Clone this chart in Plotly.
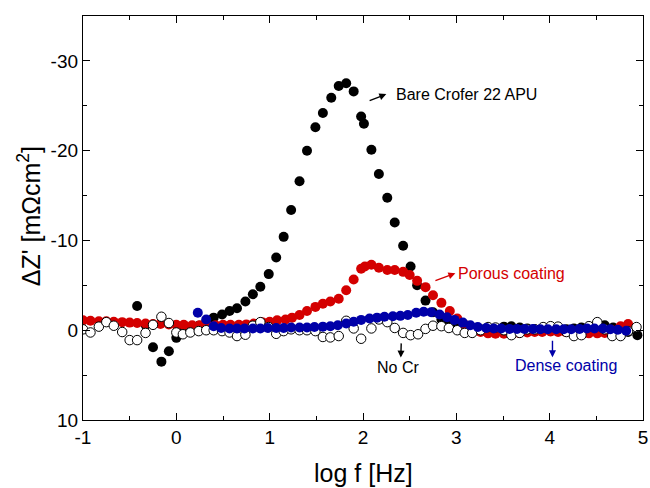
import plotly.graph_objects as go

# ---------------- data ----------------
bare_x = [-0.42, -0.33, -0.25, -0.16, -0.08, 0.00, 0.08, 0.16, 0.24, 0.32,
          0.40, 0.49, 0.57, 0.65, 0.74, 0.82, 0.90, 0.99, 1.07, 1.15,
          1.23, 1.32, 1.40, 1.49, 1.57, 1.66, 1.74, 1.82, 1.90, 1.98,
          2.01, 2.09, 2.17, 2.26, 2.34, 2.43, 2.51, 2.58, 2.67, 2.75,
          2.84, 2.92, 3.01, 3.09, 3.18, 3.26, 3.34, 3.43, 3.51, 3.59,
          3.68, 3.76, 3.84, 3.93, 4.01, 4.09, 4.18, 4.26, 4.34, 4.43,
          4.51, 4.59, 4.68, 4.76, 4.84, 4.94]
bare_y = [-2.7, -0.6, 1.9, 3.5, 2.35, 0.85, -0.2, -0.4, -0.5, -0.9,
          -1.4, -1.75, -2.15, -2.45, -3.2, -4.0, -4.85, -6.25, -8.1, -10.4,
          -13.4, -16.6, -20.0, -22.6, -24.2, -25.9, -27.2, -27.5, -26.6, -23.8,
          -23.0, -20.1, -17.4, -14.75, -12.0, -9.4, -7.1, -5.0, -3.3, -2.0,
          -1.2, -0.7, -0.4, -0.2, -0.1, -0.1, -0.1, -0.2, -0.4, -0.45,
          -0.3, -0.2, -0.1, 0.0, 0.1, 0.0, -0.1, -0.2, -0.3, -0.4,
          -0.55, -0.55, -0.3, 0.0, 0.2, 0.55]

porous_x = [-1.00, -0.92, -0.83, -0.75, -0.67, -0.58, -0.50, -0.42, -0.33, -0.25,
            -0.17, -0.08, 0.00, 0.08, 0.17, 0.25, 0.33, 0.42, 0.50, 0.58,
            0.67, 0.75, 0.83, 0.92, 1.00, 1.08, 1.17, 1.24, 1.32, 1.40,
            1.49, 1.57, 1.65, 1.74, 1.82, 1.90, 1.98, 2.02, 2.09, 2.17,
            2.26, 2.34, 2.43, 2.50, 2.58, 2.67, 2.75, 2.84, 2.93, 3.01,
            3.09, 3.17, 3.26, 3.34, 3.42, 3.51, 3.59, 3.67, 3.76, 3.84,
            3.92, 4.01, 4.09, 4.17, 4.26, 4.34, 4.42, 4.51, 4.59, 4.67,
            4.76, 4.84]
porous_y = [-1.1, -1.05, -1.0, -1.0, -0.95, -0.9, -0.85, -0.8, -0.75, -0.7,
            -0.7, -0.65, -0.6, -0.6, -0.55, -0.55, -0.55, -0.55, -0.6, -0.6,
            -0.6, -0.65, -0.75, -0.9, -0.95, -1.1, -1.2, -1.4, -1.7, -2.15,
            -2.6, -2.95, -3.2, -3.5, -4.45, -5.65, -6.85, -7.1, -7.3, -6.95,
            -6.7, -6.7, -6.5, -6.15, -5.5, -4.8, -3.9, -3.05, -2.15, -1.3,
            -0.6, -0.1, 0.2, 0.35, 0.4, 0.4, 0.35, 0.3, 0.25, 0.2,
            0.2, 0.15, 0.2, 0.2, 0.25, 0.3, 0.35, 0.35, 0.3, 0.0,
            -0.45, -0.7]

nocr_x = [-1.00, -0.92, -0.83, -0.75, -0.67, -0.58, -0.50, -0.42, -0.33, -0.25,
          -0.16, -0.08, 0.00, 0.07, 0.15, 0.24, 0.32, 0.40, 0.49, 0.57,
          0.65, 0.74, 0.82, 0.90, 0.99, 1.07, 1.15, 1.23, 1.32, 1.40,
          1.49, 1.57, 1.65, 1.74, 1.82, 1.90, 1.98, 2.09, 2.17, 2.26,
          2.34, 2.43, 2.51, 2.59, 2.67, 2.75, 2.84, 2.92, 3.01, 3.09,
          3.17, 3.26, 3.34, 3.42, 3.51, 3.59, 3.68, 3.76, 3.84, 3.93,
          4.01, 4.09, 4.18, 4.26, 4.34, 4.42, 4.51, 4.59, 4.67, 4.76,
          4.84, 4.93]
nocr_y = [-0.1, 0.25, -0.4, -0.9, -0.5, 0.2, 1.1, 1.1, 0.3, -0.6,
          -1.5, -0.8, 0.25, 0.45, 0.25, 0.1, 0.0, 0.0, 0.1, 0.25,
          0.65, 0.5, -0.5, -0.9, -0.35, 0.4, 0.1, -0.1, 0.0, 0.0,
          0.1, 0.75, 0.8, 0.65, -1.05, -0.2, 0.95, -0.2, -1.2, -0.9,
          -0.25, 0.3, 0.55, 0.45, -0.15, -0.5, -0.45, -0.25, 0.0, 0.3,
          0.3, 0.0, -0.35, -0.3, 0.0, 0.55, 0.3, -0.1, -0.1, -0.35,
          -0.45, -0.4, 0.2, 0.65, 0.55, -0.45, -0.9, -0.1, 0.65, 0.65,
          0.1, -0.35]

dense_x = [0.23, 0.32, 0.40, 0.48, 0.57, 0.65, 0.73, 0.82, 0.90, 0.98,
           1.07, 1.15, 1.23, 1.32, 1.40, 1.48, 1.57, 1.65, 1.73, 1.82,
           1.90, 1.98, 2.07, 2.15, 2.23, 2.32, 2.40, 2.48, 2.57, 2.65,
           2.73, 2.82, 2.90, 2.98, 3.07, 3.15, 3.23, 3.32, 3.40, 3.48,
           3.57, 3.65, 3.73, 3.82, 3.90, 3.98, 4.07, 4.15, 4.23, 4.32,
           4.40, 4.48, 4.57, 4.65, 4.73, 4.82]
dense_y = [-1.95, -1.2, -0.45, -0.25, -0.2, -0.2, -0.2, -0.2, -0.2, -0.25,
           -0.25, -0.25, -0.3, -0.3, -0.3, -0.35, -0.4, -0.45, -0.55, -0.75,
           -0.95, -1.15, -1.3, -1.4, -1.5, -1.55, -1.6, -1.7, -1.95, -2.05,
           -2.0, -1.75, -1.45, -1.15, -0.85, -0.55, -0.35, -0.25, -0.2, -0.2,
           -0.15, -0.15, -0.15, -0.15, -0.1, -0.1, -0.1, -0.1, -0.1, -0.15,
           -0.2, -0.2, -0.2, -0.1, -0.05, 0.05]

x_ticks = [-1, 0, 1, 2, 3, 4, 5]
x_tick_labels = ["-1", "0", "1", "2", "3", "4", "5"]
y_ticks = [-30, -20, -10, 0, 10]
y_tick_labels = ["-30", "-20", "-10", "0", "10"]

# ---------------- styles ----------------
FONT = "Arial, Liberation Sans, sans-serif"
BLACK = "#000000"
RED = "#d40000"
BLUE = "#0000a8"
MS = 10

fig = go.Figure()
fig.add_trace(go.Scatter(x=bare_x, y=bare_y, mode="markers", name="Bare Crofer 22 APU",
                         marker=dict(size=MS, color=BLACK, line=dict(width=0))))
fig.add_trace(go.Scatter(x=porous_x, y=porous_y, mode="markers", name="Porous coating",
                         marker=dict(size=MS, color=RED, line=dict(width=0))))
fig.add_trace(go.Scatter(x=nocr_x, y=nocr_y, mode="markers", name="No Cr",
                         marker=dict(size=MS - 0.5, color="white", line=dict(width=1, color=BLACK))))
fig.add_trace(go.Scatter(x=dense_x, y=dense_y, mode="markers", name="Dense coating",
                         marker=dict(size=MS, color=BLUE, line=dict(width=0))))

axis_common = dict(showline=True, linecolor="black", linewidth=1.3, mirror="ticks",
                   ticks="inside", ticklen=7, tickwidth=1.3, tickcolor="black",
                   showgrid=False, zeroline=False, automargin=False,
                   tickfont=dict(family=FONT, size=19, color="black"))

fig.update_xaxes(range=[-1, 5], tickvals=x_ticks, ticktext=x_tick_labels,
                 minor=dict(ticks="inside", ticklen=4, tickwidth=1.3, tickcolor="black", dtick=0.5, showgrid=False),
                 **axis_common)
fig.update_yaxes(range=[10, -35], tickvals=y_ticks, ticktext=y_tick_labels,
                 minor=dict(ticks="inside", ticklen=4, tickwidth=1.3, tickcolor="black", dtick=5, showgrid=False),
                 **axis_common)

annots = []
# axis titles
annots.append(dict(text="log f [Hz]", xref="paper", yref="paper", x=0.5, y=-0.13,
                   xanchor="center", yanchor="middle", showarrow=False,
                   font=dict(family=FONT, size=25, color="black")))
annots.append(dict(text="ΔZ' [mΩcm<sup>2</sup>]", xref="paper", yref="paper", x=-0.096, y=0.505,
                   xanchor="center", yanchor="middle", showarrow=False, textangle=-90,
                   font=dict(family=FONT, size=25, color="black")))

# labels
annots.append(dict(text="Bare Crofer 22 APU", x=2.33, y=-26.3, xref="x", yref="y",
                   xanchor="left", yanchor="middle", showarrow=False,
                   font=dict(family=FONT, size=16, color=BLACK)))
annots.append(dict(text="Porous coating", x=3.0, y=-6.34, xref="x", yref="y",
                   xanchor="left", yanchor="middle", showarrow=False,
                   font=dict(family=FONT, size=16, color=RED)))
annots.append(dict(text="No Cr", x=2.38, y=4.1, xref="x", yref="y",
                   xanchor="center", yanchor="middle", showarrow=False,
                   font=dict(family=FONT, size=16, color=BLACK)))
annots.append(dict(text="Dense coating", x=4.18, y=3.9, xref="x", yref="y",
                   xanchor="center", yanchor="middle", showarrow=False,
                   font=dict(family=FONT, size=16, color=BLUE)))

# arrows
def arrow(x0, y0, x1, y1, color):
    return dict(text="", x=x1, y=y1, ax=x0, ay=y0, xref="x", yref="y", axref="x", ayref="y",
                showarrow=True, arrowhead=2, arrowsize=1, arrowwidth=1.4, arrowcolor=color)

annots.append(arrow(2.055, -25.5, 2.25, -26.3, BLACK))
annots.append(arrow(2.76, -5.47, 2.99, -6.34, RED))
annots.append(arrow(2.41, 1.3, 2.405, 3.05, BLACK))
annots.append(arrow(4.03, 1.0, 4.03, 3.0, BLUE))

fig.update_layout(width=650, height=488, margin=dict(l=83, r=7, t=16, b=68),
                  paper_bgcolor="white", plot_bgcolor="white", showlegend=False,
                  font=dict(family=FONT), annotations=annots)

fig.write_html("out.html", config={"displayModeBar": False},
               post_script="document.body.style.margin='0';document.body.style.overflow='hidden';")
